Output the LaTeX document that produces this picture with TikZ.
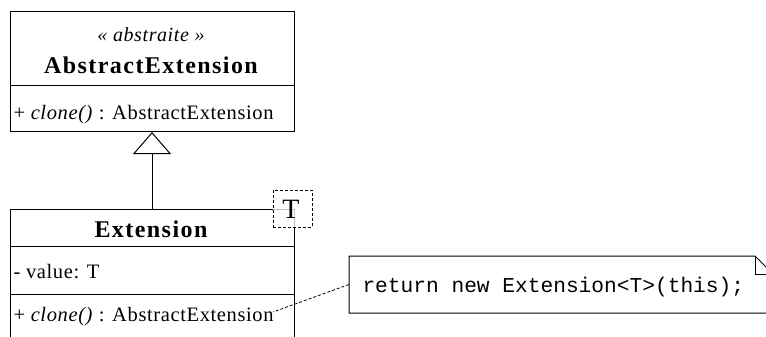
\documentclass[tikz,border=0pt]{standalone}
\usepackage{fontspec}
\setmainfont{Liberation Serif}
\setmonofont{Liberation Mono}
\newfontfamily\regsp[LetterSpace=3]{Liberation Serif}
\newfontfamily\boldsp[LetterSpace=6]{Liberation Serif Bold}
\usetikzlibrary{arrows.meta}
\tikzset{
  classbox/.style={draw, anchor=north west, minimum width=284pt, inner sep=0pt},
  member/.style={anchor=base west, inner sep=0pt, font=\regsp\fontsize{20.5}{20.5}\selectfont},
  cname/.style={anchor=base, inner sep=0pt, font=\boldsp\fontsize{24}{24}\selectfont},
  stereo/.style={anchor=base, inner sep=0pt, font=\regsp\itshape\fontsize{20}{20}\selectfont},
  tmpl/.style={draw, dashed, dash pattern=on 3pt off 2pt, minimum width=39pt, minimum height=37pt, inner sep=0pt, line width=0.9pt},
  notetext/.style={anchor=base west, inner sep=0pt, font=\ttfamily\fontsize{21.2}{21.2}\selectfont},
  gen/.style={-{Triangle[open, length=22pt, width=38pt]}, fill=white},
}
\begin{document}
\begin{tikzpicture}[x=1pt, y=-1pt, line width=1pt]
\useasboundingbox (0,0) rectangle (766,337);
\clip (0,0) rectangle (766,337);
% abstract class
\node[classbox, minimum height=120pt] (abs) at (9.5,11) {};
\draw (abs.west |- 0,86) -- (abs.east |- 0,86);
\node[stereo] (st) at (151,42) {« abstraite »};
\node[cname] (absname) at (151,74) {AbstractExtension};
\node[member] (absop) at (13,119) {+ \textit{clone()} : AbstractExtension};
% Extension class
\node[classbox, minimum height=140pt] (ext) at (9.5,209) {};
\draw (ext.west |- 0,246.5) -- (ext.east |- 0,246.5);
\draw (ext.west |- 0,294) -- (ext.east |- 0,294);
\node[cname] (extname) at (151,237) {Extension};
\node[member] (extattr) at (13,278) {- value: T};
\node[member] (extop) at (13,321) {+ \textit{clone()} : AbstractExtension};
% template parameter
\node[tmpl] (tp) at (292.5,208.5) {};
\draw[black!25] (tp.west |- ext.north) -- (ext.north east) -- (ext.east |- tp.south);
\node[inner sep=0pt, font=\fontsize{28}{28}\selectfont] (tlabel) at (291,209) {T};
% generalization
\draw[gen] (ext.north) -- (abs.south);
% note
\node[anchor=north west, minimum width=423pt, minimum height=56pt, inner sep=0pt] (note) at (349,256) {};
\draw (note.north west) -- ([xshift=-18pt]note.north east) -- ([yshift=-18pt]note.north east) -- (note.south east) -- (note.south west) -- cycle;
\draw ([xshift=-18pt]note.north east) -- ([xshift=-18pt,yshift=-18pt]note.north east) -- ([yshift=-18pt]note.north east);
\node[notetext] (code) at (362,292) {return new Extension<T>(this);};
\coordinate (opend) at (273,312);
\draw[dashed, dash pattern=on 3pt off 2pt, line width=0.8pt] (note.west) -- (opend);
\end{tikzpicture}
\end{document}
